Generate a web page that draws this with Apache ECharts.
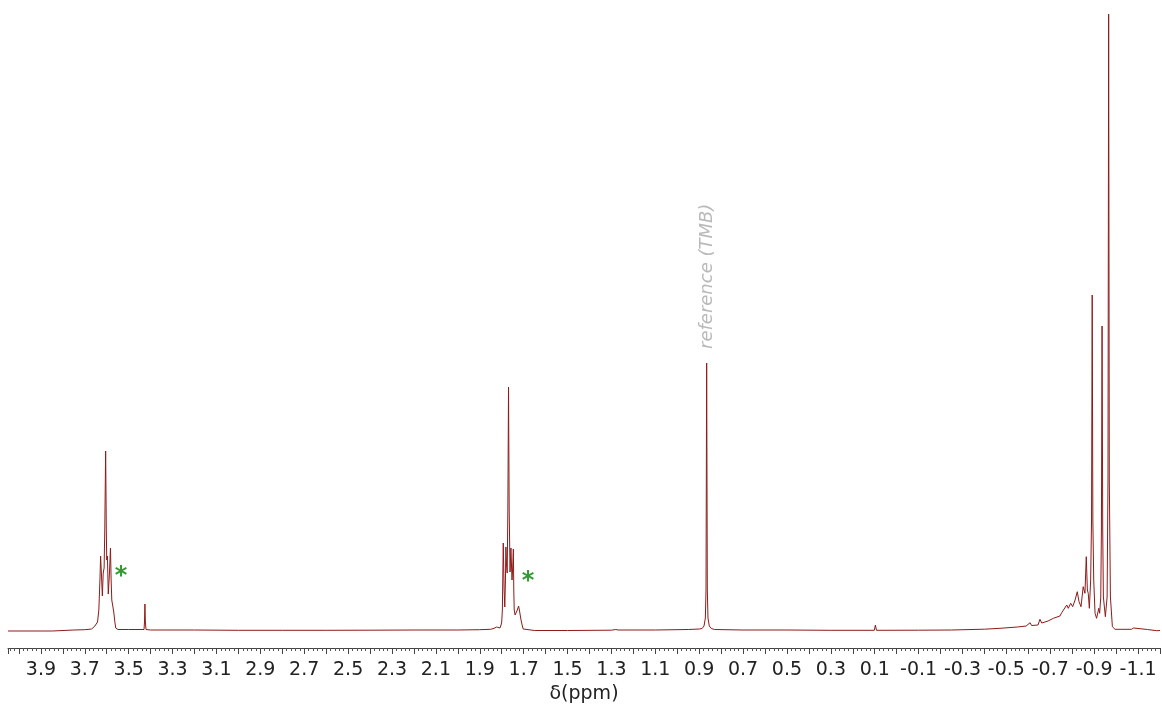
<!DOCTYPE html>
<html>
<head>
<meta charset="utf-8">
<script src="https://cdn.jsdelivr.net/npm/echarts@6/dist/echarts.min.js"></script>
<style>
  html, body { margin: 0; padding: 0; background: #fff; }
  #chart { width: 1162px; height: 704px; }
</style>
</head>
<body>
<div id="chart"></div>
<script>
// 1H NMR trace: chemical shift (ppm) and intensity above baseline (arbitrary units)
const shiftPpm = [
  4.05, 3.90, 3.848, 3.840, 3.75, 3.70, 3.669, 3.654, 3.642, 3.636,
  3.631, 3.628, 3.624, 3.620, 3.616, 3.612, 3.609, 3.605, 3.602, 3.600,
  3.597, 3.593, 3.588, 3.583, 3.580, 3.577, 3.573, 3.568, 3.563, 3.559,
  3.549, 3.50, 3.430, 3.428, 3.426, 3.424, 3.421, 3.40, 3.20, 3.00,
  2.80, 2.60, 2.40, 2.20, 2.00, 1.90, 1.85, 1.835, 1.823, 1.816,
  1.808, 1.803, 1.800, 1.797, 1.793, 1.789, 1.786, 1.783, 1.781, 1.778,
  1.775, 1.772, 1.769, 1.766, 1.762, 1.760, 1.758, 1.755, 1.753, 1.750,
  1.747, 1.745, 1.743, 1.739, 1.735, 1.729, 1.723, 1.718, 1.712, 1.706,
  1.702, 1.695, 1.65, 1.50, 1.30, 1.280, 1.276, 1.270, 1.10, 0.95,
  0.900, 0.887, 0.878, 0.872, 0.869, 0.866, 0.863, 0.860, 0.854, 0.845,
  0.83, 0.70, 0.50, 0.30, 0.102, 0.097, 0.092, -0.10, -0.25, -0.40,
  -0.471, -0.55, -0.590, -0.598, -0.608, -0.615, -0.644, -0.653, -0.661, -0.690,
  -0.714, -0.744, -0.752, -0.759, -0.775, -0.782, -0.793, -0.802, -0.813, -0.823,
  -0.831, -0.840, -0.850, -0.858, -0.864, -0.869, -0.873, -0.878, -0.884, -0.888,
  -0.891, -0.894, -0.898, -0.904, -0.911, -0.921, -0.925, -0.930, -0.933, -0.936,
  -0.939, -0.942, -0.951, -0.959, -0.963, -0.966, -0.969, -0.974, -0.983, -0.995,
  -1.07, -1.078, -1.080, -1.083, -1.143, -1.147, -1.150, -1.185, -1.20
];
const intensity = [
  -1, -1, -1, 0, 0, 0.3, 1, 4, 8, 20,
  50, 74, 55, 34, 57, 62, 100, 179, 100, 70,
  74, 36, 55, 82, 50, 30, 29, 18, 8, 2,
  0.5, 0.5, 0.5, 8, 26, 8, 0.5, 0, 0, -0.3,
  -0.3, -0.3, -0.2, 0, 0, 0.3, 0.7, 1.7, 3, 4.5,
  2, 5, 8, 20, 87, 40, 23, 50, 83, 65,
  57, 120, 243, 120, 58, 70, 82, 62, 50, 62,
  81, 40, 20, 15, 17, 20, 24, 18, 10, 4,
  1, 0, -0.5, -0.5, -0.2, 0.5, 0.8, 0, 0, 0.5,
  1, 1.5, 4, 12, 40, 267, 40, 12, 4, 1.5,
  0.5, 0, 0, -0.3, -0.3, 5, -0.3, -0.2, 0, 0.8,
  1.7, 3, 4, 5, 7.3, 4.5, 5, 10.7, 7, 9,
  11.7, 14, 17.3, 15.7, 25, 21.7, 26.7, 23.3, 30, 38.3,
  28.3, 23.3, 43.3, 36.7, 73.3, 40, 36.7, 21.7, 50, 110,
  335, 110, 50, 16.7, 11.7, 21.7, 16.7, 33, 100, 304,
  100, 33, 13.3, 33, 150, 616, 150, 33, 3.3, 0.7,
  0.7, 0.7, 2, 0.5, 0.5, 2, 0.5, -0.7, -0.5
];

// Marked impurity signals (ppm, intensity where the mark sits)
const asteriskMarks = [[3.535, 58], [1.680, 53]];
// Internal standard annotation
const referenceLabel = { text: 'reference (TMB)', ppm: 0.862, at: 281 };

const axisMin = -1.2;
const axisMax = 4.05;
const majorStep = 0.1;

const trace = shiftPpm.map((x, i) => [x, intensity[i]]);

const chart = echarts.init(document.getElementById('chart'), null, { renderer: 'canvas' });

chart.setOption({
  animation: false,
  backgroundColor: '#ffffff',
  grid: { left: 8, right: 2, top: 0, bottom: 56, containLabel: false, outerBoundsMode: 'none' },
  xAxis: {
    type: 'value',
    inverse: true,
    min: axisMin,
    max: axisMax,
    interval: majorStep,
    name: 'δ(ppm)',
    nameLocation: 'middle',
    nameGap: 37,
    nameTextStyle: { fontFamily: 'DejaVu Sans', fontSize: 19, color: '#222' },
    axisLine: { show: true, onZero: false, lineStyle: { color: '#444', width: 1 } },
    axisTick: { show: true, length: 6, lineStyle: { color: '#444', width: 1 } },
    minorTick: { show: true, splitNumber: 5, length: 3, lineStyle: { color: '#555', width: 1 } },
    splitLine: { show: false },
    axisLabel: {
      fontFamily: 'DejaVu Sans',
      fontSize: 19,
      color: '#222',
      margin: 13,
      showMinLabel: false,
      showMaxLabel: false,
      formatter: function (v) {
        const k = Math.round(v * 10);
        if (Math.abs(v * 10 - k) > 1e-6) return '';
        return Math.abs(k) % 2 === 1 ? (k / 10).toFixed(1) : '';
      }
    }
  },
  yAxis: {
    type: 'value',
    min: -18,
    max: 630,
    show: false
  },
  series: [
    {
      type: 'line',
      data: trace,
      showSymbol: false,
      symbol: 'none',
      smooth: false,
      sampling: null,
      lineStyle: { color: '#8f1a1a', width: 1 },
      z: 2
    },
    {
      type: 'scatter',
      data: asteriskMarks,
      symbolSize: 0,
      label: {
        show: true,
        position: 'inside',
        formatter: '*',
        fontFamily: 'DejaVu Sans',
        fontWeight: 'bold',
        fontSize: 24,
        color: '#008000',
        offset: [0, 5]
      },
      z: 3
    },
    {
      type: 'scatter',
      data: [[referenceLabel.ppm, referenceLabel.at]],
      symbolSize: 0,
      label: {
        show: true,
        position: 'inside',
        rotate: 90,
        align: 'left',
        verticalAlign: 'middle',
        formatter: referenceLabel.text,
        fontFamily: 'DejaVu Sans',
        fontStyle: 'italic',
        fontSize: 18,
        color: '#a8a8a8'
      },
      z: 3
    }
  ]
});
</script>
</body>
</html>
